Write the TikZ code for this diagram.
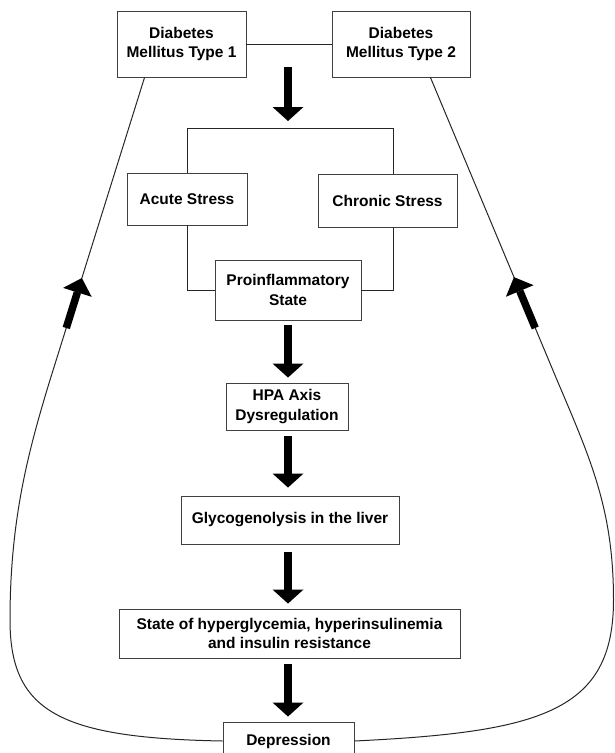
\documentclass[tikz,border=0pt]{standalone}
\usepackage{fontspec}
\setmainfont{Liberation Sans}
\usetikzlibrary{arrows.meta,calc}
\begin{document}
\begin{tikzpicture}[x=1pt,y=-1pt,
  box/.style={draw=black!75, line width=0.9pt, align=center, inner sep=0pt,
    font=\bfseries\fontsize{15.5}{19.5}\selectfont},
  conn/.style={draw=black!85, line width=1pt},
  bigarrow/.style={line width=8pt, -{Triangle[width=31pt,length=14pt,line width=0pt]}},
  sidearrow/.style={line width=7.5pt, -{Triangle[width=30pt,length=15pt,line width=0pt]}}
]
\path[use as bounding box, clip] (0,0) rectangle (615,753);

\node[box, minimum width=129pt, minimum height=66pt] (d1) at (181.5,44) {Diabetes\\Mellitus Type 1};
\node[box, minimum width=138pt, minimum height=66pt] (d2) at (401,44) {Diabetes\\Mellitus Type 2};
\node[box, minimum width=120pt, minimum height=52pt] (acute) at (187,199) {Acute Stress};
\node[box, minimum width=139pt, minimum height=53pt] (chronic) at (387.5,200.5) {Chronic Stress};
\node[box, minimum width=146pt, minimum height=60pt] (pro) at (288,290) {Proinflammatory\\State};
\node[box, minimum width=122pt, minimum height=47pt] (hpa) at (287,406.5) {HPA Axis\\Dysregulation};
\node[box, minimum width=218pt, minimum height=48pt] (gly) at (290,520) {Glycogenolysis in the liver};
\node[box, minimum width=341pt, minimum height=49pt] (state) at (289.5,633.5) {State of hyperglycemia, hyperinsulinemia\\and insulin resistance};
\node[box, minimum width=131pt, minimum height=38pt] (dep) at (288.5,741) {Depression};

% link between diabetes boxes
\draw[conn] (d1.east) -- (d2.west);

% arrow to bracket
\coordinate (a0) at (288,67);
\coordinate (a1) at (288,121);
\draw[bigarrow] (a0) -- (a1);

% bracket above stress boxes
\coordinate (bk) at (290,128);
\coordinate (ct) at ($(chronic.north)+(5.5,0)$);
\coordinate (cb) at ($(chronic.south)+(5.5,0)$);
\draw[conn] (acute.north) -- (acute.north |- bk) -- (bk -| ct) -- (ct);

% stress boxes to proinflammatory state
\draw[conn] (acute.south) |- (pro.west);
\draw[conn] (cb) |- (pro.east);

% central chain
\draw[bigarrow, shorten <=5pt, shorten >=5pt] (pro.south) -- (pro.south |- hpa.north);
\draw[bigarrow, shorten <=6pt, shorten >=8pt] (hpa.south -| pro.south) -- (pro.south |- gly.north);
\draw[bigarrow, shorten <=8pt, shorten >=5pt] (gly.south -| pro.south) -- (pro.south |- state.north);
\draw[bigarrow, shorten <=6pt, shorten >=5pt] (state.south -| pro.south) -- (pro.south |- dep.north);

% left feedback loop
\coordinate (lt) at ($(d1.south west)+(28,0)$);
\coordinate (lb) at (50,380);
\coordinate (lm) at (10,620);
\draw[conn] (lt) -- (lb) .. controls (28,452) and (10,520) .. (lm) .. controls (10,712) and (60,738) .. (dep.west);
\draw[sidearrow] ($(lt)!0.828!(lb)$) -- ($(lt)!0.663!(lb)$);

% right feedback loop
\coordinate (rt) at ($(d2.south east)+(-40,0)$);
\coordinate (rb) at (557,380);
\coordinate (rm) at (613.5,600);
\draw[conn] (rt) -- (rb) .. controls (591,460) and (613.5,510) .. (rm) .. controls (613.5,712) and (540,732) .. (dep.east);
\draw[sidearrow] ($(rt)!0.828!(rb)$) -- ($(rt)!0.66!(rb)$);
\end{tikzpicture}
\end{document}
